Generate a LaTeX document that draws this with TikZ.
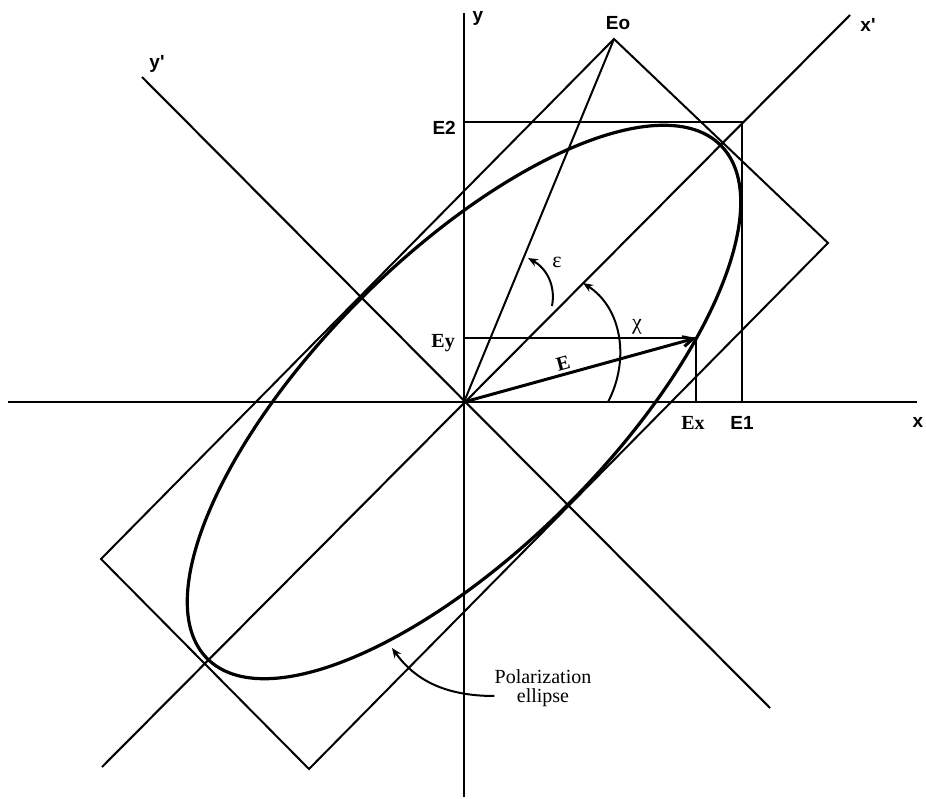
\documentclass[tikz,border=0pt]{standalone}
\usepackage{fontspec}
\setmainfont{Liberation Serif}
\newfontfamily\labfont{Liberation Sans}
\usetikzlibrary{arrows.meta}
\begin{document}
\begin{tikzpicture}[x=1pt,y=-1pt,
  axisline/.style={line width=2.1pt},
  thinline/.style={line width=2pt},
  ellline/.style={line width=3.2pt},
  vecline/.style={line width=3pt,-{Straight Barb[length=10pt,width=10pt]}},
  arcline/.style={line width=2pt,-{Stealth[length=10pt,width=8pt]}},
  lab/.style={font=\labfont\bfseries\fontsize{19}{21}\selectfont,inner sep=0pt},
  slab/.style={font=\bfseries\fontsize{20}{22}\selectfont,inner sep=0pt},
  greek/.style={font=\fontsize{22}{24}\selectfont,inner sep=0pt},
  serif/.style={font=\fontsize{20}{22}\selectfont,inner sep=0pt,align=center}]
\useasboundingbox (0,0) rectangle (926,799);
% key coordinates
\coordinate (O) at (464,402);
\coordinate (xl) at (8,402);
\coordinate (xr) at (917,402);
\coordinate (yt) at (464,13);
\coordinate (yb) at (464,797);
\coordinate (xpt) at (850,15);
\coordinate (xpb) at (102,767);
\coordinate (ypt) at (142,77);
\coordinate (ypb) at (770,708);
\coordinate (Eo) at (614,39);
\coordinate (Rc) at (828,243);
\coordinate (Bc) at (309,769);
\coordinate (Lc) at (101,559);
\coordinate (E2p) at (464,122);
\coordinate (C12) at (742,122);
\coordinate (E1p) at (742,402);
\coordinate (Eyp) at (464,338);
\coordinate (Et) at (696,338);
\coordinate (Exp) at (696,402);
% axes
\draw[axisline] (xl) -- (xr);
\draw[axisline] (yt) -- (yb);
\draw[axisline] (xpb) -- (xpt);
\draw[axisline] (ypt) -- (ypb);
% rotated rectangle
\draw[thinline] (Eo) -- (Rc) -- (Bc) -- (Lc) -- cycle;
% E1/E2 box
\draw[thinline] (E2p) -- (C12) -- (E1p);
% Ex/Ey box
\draw[thinline] (Eyp) -- (Et) -- (Exp);
% line to Eo
\draw[thinline] (O) -- (Eo);
% ellipse
\draw[ellline, rotate around={45:(O)}] (O) ellipse [x radius=363pt, y radius=146pt];
% E vector
\draw[vecline] (O) -- (Et);
% angle arcs
\coordinate (chiA) at (608,402);
\coordinate (chiB) at (583,283);
\draw[arcline] (chiA) .. controls (630,360) and (622,308) .. (chiB);
\coordinate (epsA) at (552,306);
\coordinate (epsB) at (528,258);
\draw[arcline] (epsA) .. controls (556,285) and (546,268) .. (epsB);
% labels
\node[lab] (ly) at (478,18) {y};
\node[lab] (lEo) at (618,23) {Eo};
\node[lab,anchor=east] (lE2) at (456,128) {E2};
\node[lab] (lxp) at (868,25) {x'};
\node[lab] (lyp) at (157,64) {y'};
\node[slab,anchor=east] (lEy) at (455,343) {Ey};
\node[slab] (lEx) at (693,423) {Ex};
\node[lab] (lE1) at (742,423) {E1};
\node[lab] (lx) at (918,422) {x};
\node[slab,rotate=15] (lE) at (563,363) {E};
\node[greek] (lchi) at (637,327) {χ};
\node[greek] (leps) at (557,262) {ε};
\node[serif] (lpol) at (543,688) {Polarization\\[-3pt]ellipse};
\coordinate (polTip) at (392,648);
\draw[arcline] (lpol.west |- 0,696) .. controls (445,696) and (415,680) .. (polTip);
\end{tikzpicture}
\end{document}
